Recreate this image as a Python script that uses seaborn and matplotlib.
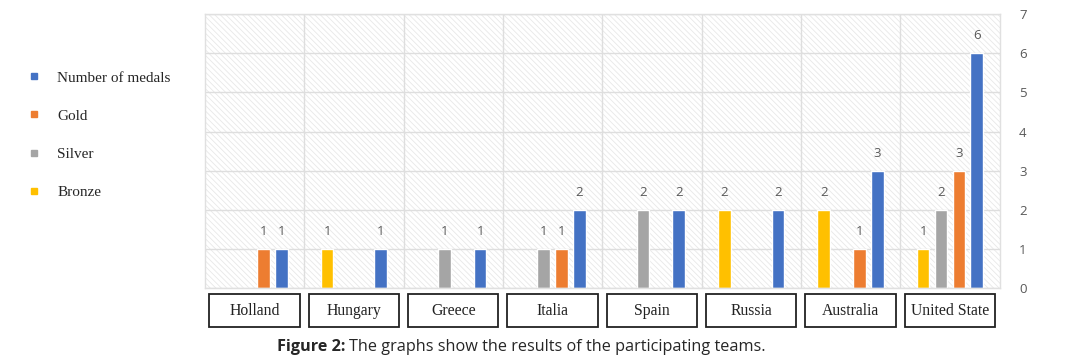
import pandas as pd
import matplotlib.pyplot as plt
import seaborn as sns
import numpy as np
from matplotlib.patches import Rectangle
from matplotlib.lines import Line2D
from matplotlib.transforms import blended_transform_factory

teams = ['Holland', 'Hungary', 'Greece', 'Italia', 'Spain', 'Russia', 'Australia', 'United State']
bronze = [0, 1, 0, 0, 0, 2, 2, 1]
silver = [0, 0, 1, 1, 2, 0, 0, 2]
gold = [1, 0, 0, 1, 0, 0, 1, 3]
medals = [1, 1, 1, 2, 2, 2, 3, 6]
series = ['Bronze', 'Silver', 'Gold', 'Number of medals']
colores = {'Bronze': '#FFC000', 'Silver': '#A5A5A5', 'Gold': '#ED7D31', 'Number of medals': '#4472C4'}

df = pd.DataFrame({'team': teams, 'Bronze': bronze, 'Silver': silver,
                   'Gold': gold, 'Number of medals': medals})
df = df.melt(id_vars='team', var_name='medal', value_name='valor')

sns.set_style("white")
plt.rcParams['hatch.linewidth'] = 0.6

fig = plt.figure(figsize=(10.9, 3.62), dpi=100)
ax = fig.add_axes([0.188, 0.204, 0.729, 0.757])

# fundo hachurado
ax.add_patch(Rectangle((0, 0), 1, 1, transform=ax.transAxes, facecolor='white',
                       edgecolor='#e8e8e8', hatch='\\\\\\\\\\\\', linewidth=0, zorder=0))

sns.barplot(data=df, x='team', y='valor', hue='medal', order=teams, hue_order=series,
            palette=colores, saturation=1, width=0.72, gap=0.3, ax=ax, legend=False, zorder=2)

for cont in ax.containers:
    labels = [str(int(v)) if v > 0 else '' for v in cont.datavalues]
    ax.bar_label(cont, labels=labels, padding=8, color='#595959', fontsize=9.5,
                 family='Open Sans')

ax.set_ylim(0, 7)
ax.set_xlim(-0.5, 7.5)
ax.set_yticks(range(0, 8))
ax.yaxis.tick_right()
ax.tick_params(axis='y', length=0, pad=14, labelsize=9.5, labelcolor='#595959')
for t in ax.get_yticklabels():
    t.set_family('Open Sans')
ax.set_xticks([])
ax.set_xticks(np.arange(0.5, 7, 1), minor=True)
ax.tick_params(axis='x', which='both', length=0)
ax.grid(True, axis='y', color='#dedede', linewidth=1, zorder=1)
ax.grid(True, axis='x', which='minor', color='#dedede', linewidth=1, zorder=1)
ax.set_xlabel('')
ax.set_ylabel('')
for s in ax.spines.values():
    s.set_color('#e0e0e0')
    s.set_linewidth(1)

# caixas com os nomes
trans = blended_transform_factory(ax.transData, ax.transAxes)
for i, t in enumerate(teams):
    ax.add_patch(Rectangle((i - 0.455, -0.142), 0.91, 0.12, transform=trans,
                           facecolor='white', edgecolor='#222222', linewidth=1.3,
                           clip_on=False))
    ax.text(i, -0.082, t, transform=trans, ha='center', va='center',
            fontsize=11.3, family='Liberation Serif', color='#222222')

# legenda
handles = [Line2D([], [], marker='s', linestyle='', markersize=5,
                  color=colores[s]) for s in series[::-1]]
fig.legend(handles, series[::-1], loc='upper left', bbox_to_anchor=(0.012, 0.842),
           frameon=False, prop={'family': 'Liberation Serif', 'size': 11},
           labelspacing=1.6, handletextpad=1.0, handlelength=1)

# legenda da figura
t1 = fig.text(277 / 1090, 1 - 347 / 362, 'Figure 2:', fontsize=11.7, weight='bold',
              family='Open Sans', va='center', ha='left')
fig.canvas.draw()
bb = t1.get_window_extent()
fig.text((bb.x1 + 4) / 1090, 1 - 347 / 362,
         'The graphs show the results of the participating teams.',
         fontsize=11.7, family='Open Sans', va='center', ha='left')

plt.savefig('out.png', dpi=100)
